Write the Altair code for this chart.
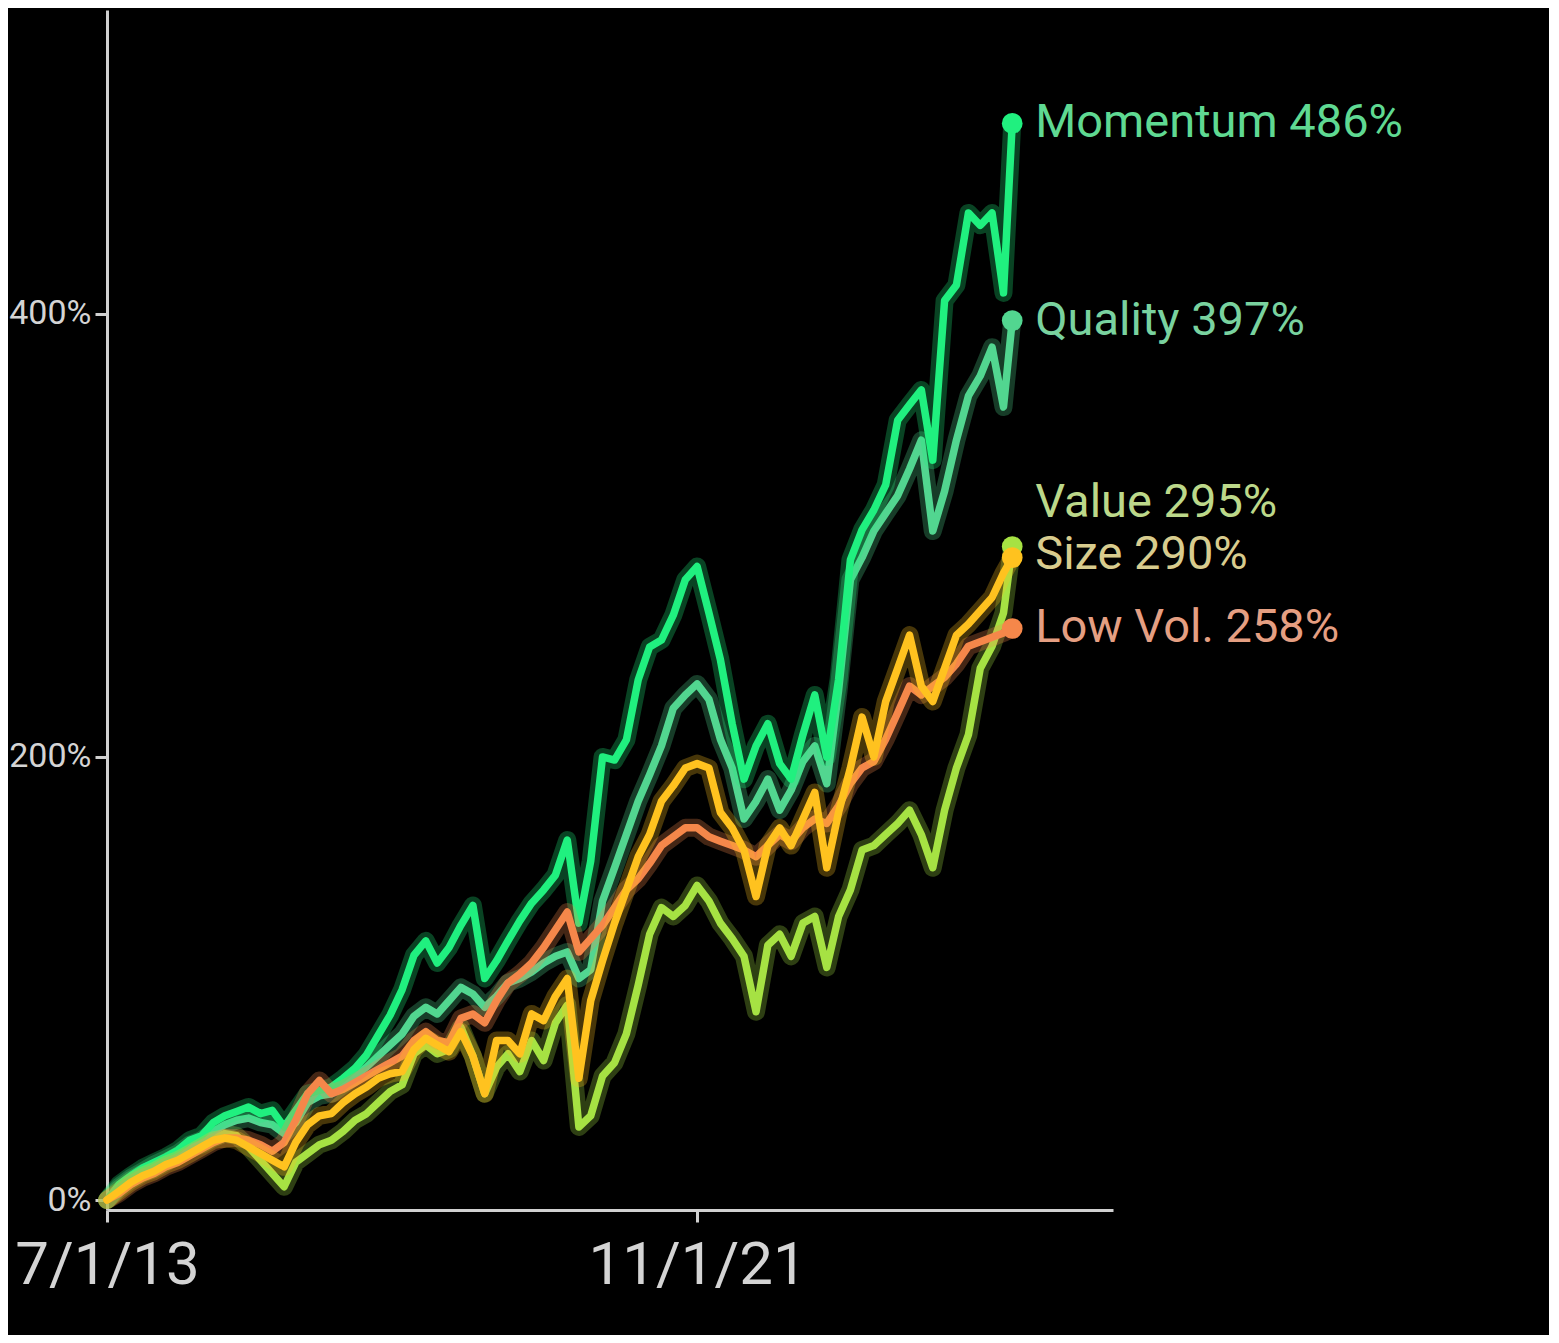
import altair as alt
import pandas as pd

# ---- data ----
dates = [d.strftime("%Y-%m-%d") for d in pd.date_range("2013-07-01", periods=77, freq="2MS")] + ["2026-04-15"]

momentum = [0, 7, 11, 14.5, 17, 19.5, 22.5, 27, 29, 35,
            38, 40, 42, 39, 40.5, 33, 40.5, 48, 49.5, 51,
            55, 59.5, 65.5, 74.5, 83.5, 95, 110.5, 117, 107, 114,
            124, 133, 100, 108, 117, 126, 134, 140, 146.7, 162.5,
            125, 153, 200, 198.6, 207.7, 234.8, 249.7, 252.8, 264, 280,
            286, 265, 244, 215, 190, 205, 215, 197, 190, 210,
            228, 200, 235, 289, 302.5, 311.5, 322.8, 352, 359, 365.7,
            334, 406, 413, 445.6, 440, 445.6, 409.5, 486]

quality = [0, 6, 10, 13, 16, 18.5, 21, 25, 27, 31,
           34, 36, 37, 35, 34, 30, 35, 44, 47, 48,
           52, 56, 60, 65, 70, 75, 83, 87, 84, 90,
           96, 93, 87, 92, 98, 100, 103, 107, 110, 112,
           100, 104, 135, 150, 165, 180, 192, 205, 222, 228,
           233, 226, 208, 195, 172, 180, 190, 176, 185, 198,
           205, 188, 230, 280, 290, 302, 310, 318, 330, 343,
           302, 320, 343, 363, 372, 385, 358, 397]

value = [0, 5, 9, 12, 14, 17, 20, 23, 25, 28,
         30, 29, 24, 18, 12, 6, 17, 21, 25, 27,
         31, 36, 39, 44, 49, 52, 66, 70, 66, 68,
         78, 65, 48, 60, 66, 58, 72, 63, 80, 88,
         33, 38, 56, 62, 75, 97, 120, 132, 128, 133,
         142, 135, 125, 118, 110, 85, 115, 120, 110, 125,
         128, 105, 128, 140, 158, 160, 165, 170, 176, 165,
         150, 176, 195, 210, 240, 250, 265, 295]

size = [0, 4, 8, 11, 13, 16, 18, 21, 24, 27,
        28, 27, 24, 21, 18, 15, 26, 34, 38, 39,
        44, 48, 51, 55, 57, 58, 68, 73, 70, 67,
        76, 65, 48, 72, 72, 66, 84, 81, 92, 100,
        55, 90, 108, 125, 140, 155, 165, 180, 187, 195,
        197, 195, 175, 168, 158, 137, 160, 168, 160, 172,
        184, 150, 175, 195, 218, 200, 225, 240, 255, 232,
        225, 240, 255, 260, 266, 272, 283, 290]

low_vol = [0, 3, 7, 10, 12, 15, 17, 20, 23, 26,
           28, 28, 27, 25, 22, 26, 36, 48, 54, 48,
           50, 53, 56, 59, 62, 65, 72, 76, 72, 71,
           82, 84, 80, 90, 98, 102, 107, 114, 122, 130,
           112, 118, 124, 132, 140, 145, 152, 160, 164, 168,
           168, 164, 162, 160, 158, 155, 160, 165, 162, 168,
           172, 170, 178, 188, 195, 198, 208, 220, 232, 228,
           232, 236, 242, 250, 252, 254, 256, 258]

series = {
    "Momentum": momentum,
    "Quality": quality,
    "Value": value,
    "Size": size,
    "Low Vol.": low_vol,
}

# ---- styles ----
line_colors = {
    "Momentum": "#20f07f",
    "Quality": "#52d690",
    "Value": "#a6e243",
    "Size": "#ffc21f",
    "Low Vol.": "#f5874a",
}
label_colors = {
    "Momentum": "#5fd992",
    "Quality": "#79d29f",
    "Value": "#bcd88a",
    "Size": "#d8cc8e",
    "Low Vol.": "#e59f82",
}
label_dy = {"Momentum": 0, "Quality": 0, "Value": -44, "Size": -3, "Low Vol.": 0}
draw_order = ["Value", "Quality", "Momentum", "Low Vol.", "Size"]

rows = []
for name, vals in series.items():
    for d, v in zip(dates, vals):
        rows.append({"date": d, "value": v, "series": name})
df = pd.DataFrame(rows)

last = pd.DataFrame([
    {"date": dates[-1], "value": vals[-1], "series": name,
     "label": f"{name} {round(vals[-1])}%"}
    for name, vals in series.items()
])

x_enc = alt.X(
    "date:T",
    title=None,
    scale=alt.Scale(type="utc", domain=[
        alt.DateTime(year=2013, month=7, date=1, utc=True),
        alt.DateTime(year=2027, month=9, date=17, utc=True)]),
    axis=alt.Axis(
        values=[alt.DateTime(year=2013, month=7, date=1, utc=True),
                alt.DateTime(year=2021, month=11, date=1, utc=True)],
        format="%-m/%-d/%y", labelFontSize=60, labelPadding=14,
        labelLimit=0, labelFlush=False, labelOverlap=False),
)
y_enc = alt.Y(
    "value:Q",
    title=None,
    scale=alt.Scale(domain=[-4.5, 537.2], nice=False, zero=False),
    axis=alt.Axis(values=[0, 200, 400], labelExpr="datum.value + '%'",
                  labelFontSize=34, labelPadding=4, labelLimit=0),
)

layers = []
for name in draw_order:
    sub = df[df["series"] == name]
    base = alt.Chart(sub).encode(x=x_enc, y=y_enc)
    layers.append(base.mark_line(color=line_colors[name], strokeWidth=18, opacity=0.28,
                                 strokeJoin="round", strokeCap="round"))
    layers.append(base.mark_line(color=line_colors[name], strokeWidth=7.5,
                                 strokeJoin="round", strokeCap="round"))

for name in draw_order:
    pt = last[last["series"] == name]
    base = alt.Chart(pt).encode(x=x_enc, y=y_enc)
    layers.append(base.mark_circle(size=430, opacity=1, color=line_colors[name]))
    layers.append(base.mark_text(align="left", baseline="middle", dx=23, dy=label_dy[name],
                                 font="Roboto", fontSize=47, color=label_colors[name]
                                 ).encode(text="label:N"))

chart = alt.layer(*layers).properties(
    width=1006, height=1200,
    autosize=alt.AutoSizeParams(type="none"),
    padding={"left": 99, "top": 2, "right": 436, "bottom": 125},
    background="#000000",
).configure_view(stroke=None).configure_axis(
    grid=False,
    domainColor="#d0d0d0", domainWidth=3,
    tickColor="#d0d0d0", tickWidth=3, tickSize=12,
    labelColor="#d4d4d4", labelFont="Roboto",
)

chart.save("out.html", embed_options={"renderer": "svg", "actions": False})
